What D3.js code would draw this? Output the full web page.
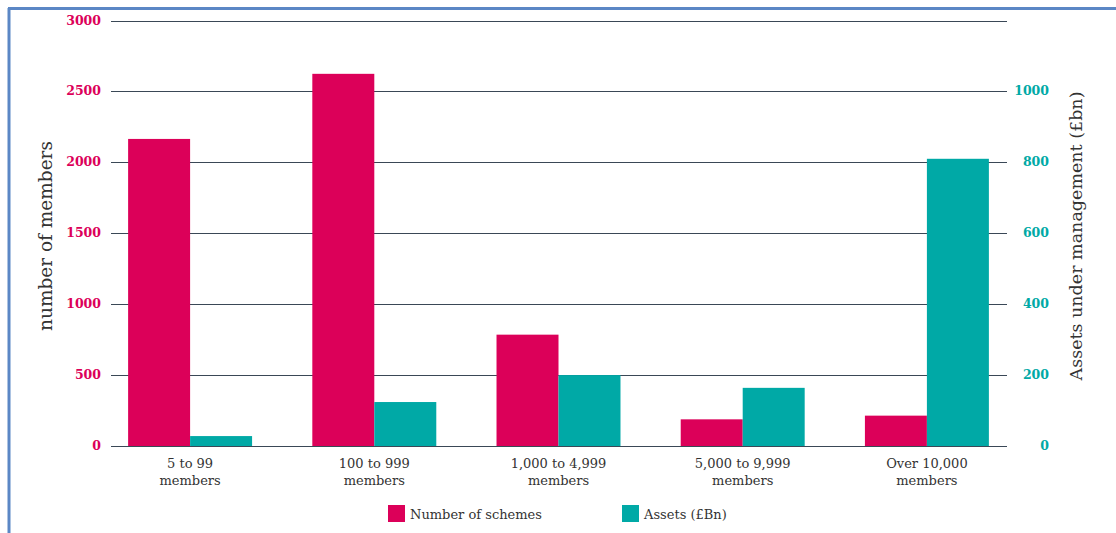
<!DOCTYPE html>
<html>
<head>
<meta charset="utf-8">
<script src="https://cdn.jsdelivr.net/npm/d3@7"></script>
<style>
  html, body { margin: 0; padding: 0; background: #fff; }
  svg { display: block; }
</style>
</head>
<body>
<svg id="chart" width="1116" height="533"></svg>
<script>
// Scheme size bands
const categories = [
  ["5 to 99", "members"],
  ["100 to 999", "members"],
  ["1,000 to 4,999", "members"],
  ["5,000 to 9,999", "members"],
  ["Over 10,000", "members"]
];
// Number of schemes per band (left axis)
const schemes = [2165, 2624, 785, 188, 214];
// Assets under management, £bn (right axis)
const assets = [28, 124, 200, 164, 810];

const leftTicks = [0, 500, 1000, 1500, 2000, 2500, 3000];
const rightTicks = [0, 200, 400, 600, 800, 1000];
const seriesNames = ["Number of schemes", "Assets (£Bn)"];

const PINK = "#dc0059";
const TEAL = "#00a9a6";
const GRID = "#3a4856";
const SERIF = "'DejaVu Serif', 'Liberation Serif', serif";

const svg = d3.select("#chart");

// Frame
svg.append("line").attr("x1", 9).attr("x2", 9).attr("y1", 8).attr("y2", 533)
  .attr("stroke", "#5b87c5").attr("stroke-width", 3);
svg.append("line").attr("x1", 8).attr("x2", 1116).attr("y1", 8.5).attr("y2", 8.5)
  .attr("stroke", "#5b87c5").attr("stroke-width", 3);

const plotTop = 20.5, plotBottom = 446;
const gridLeft = 111, gridRight = 1007;

const yLeft = d3.scaleLinear().domain([0, 3000]).range([plotBottom, plotTop]);
const yRight = d3.scaleLinear().domain([0, 1200]).range([plotBottom, plotTop]);

const x0 = d3.scaleBand().domain(d3.range(categories.length))
  .range([98, 1019]).paddingInner(0.327).paddingOuter(0.1635);
const x1 = d3.scaleBand().domain([0, 1]).range([0, x0.bandwidth()]);

// Gridlines from left axis ticks
svg.append("g").selectAll("line").data(leftTicks).join("line")
  .attr("x1", gridLeft).attr("x2", gridRight)
  .attr("y1", d => Math.round(yLeft(d)) + 0.5).attr("y2", d => Math.round(yLeft(d)) + 0.5)
  .attr("stroke", GRID).attr("stroke-width", 1.2);

// Bars
const groups = svg.append("g").selectAll("g").data(categories).join("g")
  .attr("transform", (d, i) => `translate(${x0(i)},0)`);

groups.append("rect")
  .attr("x", x1(0)).attr("width", x1.bandwidth())
  .attr("y", (d, i) => yLeft(schemes[i]))
  .attr("height", (d, i) => plotBottom - yLeft(schemes[i]))
  .attr("fill", PINK);

groups.append("rect")
  .attr("x", x1(1)).attr("width", x1.bandwidth())
  .attr("y", (d, i) => yRight(assets[i]))
  .attr("height", (d, i) => plotBottom - yRight(assets[i]))
  .attr("fill", TEAL);

// Left tick labels
svg.append("g").selectAll("text").data(leftTicks).join("text")
  .attr("x", 101).attr("y", d => yLeft(d) + 4)
  .attr("text-anchor", "end")
  .attr("fill", PINK).attr("font-family", SERIF).attr("font-weight", "bold")
  .attr("font-size", 12.5)
  .text(d => d);

// Right tick labels
svg.append("g").selectAll("text").data(rightTicks).join("text")
  .attr("x", 1049).attr("y", d => yRight(d) + 4)
  .attr("text-anchor", "end")
  .attr("fill", TEAL).attr("font-family", SERIF).attr("font-weight", "bold")
  .attr("font-size", 12.5)
  .text(d => d);

// Category labels
const catLabels = svg.append("g").selectAll("text").data(categories).join("text")
  .attr("text-anchor", "middle")
  .attr("fill", "#333").attr("font-family", SERIF).attr("font-size", 13)
  .attr("font-weight", 300);
catLabels.each(function(d, i) {
  const t = d3.select(this);
  const cx = x0(i) + x0.bandwidth() / 2;
  d.forEach((line, j) => {
    t.append("tspan").attr("x", cx).attr("y", 468 + j * 16.5).text(line);
  });
});

// Axis titles
svg.append("text")
  .attr("transform", "translate(52,236) rotate(-90)")
  .attr("text-anchor", "middle")
  .attr("fill", "#333").attr("font-family", SERIF).attr("font-size", 18.5)
  .text("number of members");

svg.append("text")
  .attr("transform", "translate(1082,236) rotate(-90)")
  .attr("text-anchor", "middle")
  .attr("fill", "#333").attr("font-family", SERIF).attr("font-size", 17.5)
  .text("Assets under management (£bn)");

// Legend
const legendX = [388, 622];
const legend = svg.append("g").selectAll("g").data(seriesNames).join("g")
  .attr("transform", (d, i) => `translate(${legendX[i]},505)`);
legend.append("rect").attr("width", 17).attr("height", 17)
  .attr("fill", (d, i) => i === 0 ? PINK : TEAL);
legend.append("text").attr("x", 22).attr("y", 13.5)
  .attr("fill", "#333").attr("font-family", SERIF).attr("font-size", 13)
  .text(d => d);
</script>
</body>
</html>
